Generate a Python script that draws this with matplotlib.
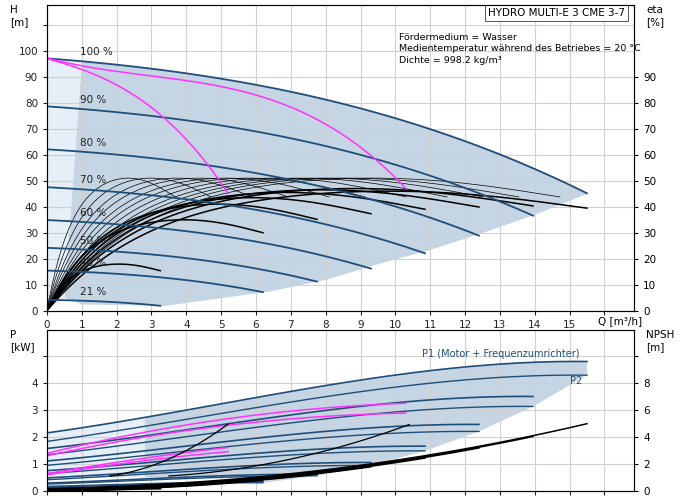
import numpy as np
import matplotlib
matplotlib.use("Agg")
import matplotlib.pyplot as plt

# ---- data ----
speeds = [1.0, 0.9, 0.8, 0.7, 0.6, 0.5, 0.4, 0.21]
speed_labels = ["100 %", "90 %", "80 %", "70 %", "60 %", "50 %", "40 %", "21 %"]
q_max100 = 15.5
h100_q = [0, 2, 4, 6, 8, 10, 12, 14, 15.5]
h100_h = [97, 95, 91.5, 87, 81, 74, 65.5, 55, 45]
eta_shape_x = [0, 0.05, 0.1, 0.2, 0.3, 0.4, 0.5, 0.6, 0.7, 0.8, 0.9, 1.0]
eta_shape_y = [0, 0.25, 0.42, 0.68, 0.84, 0.93, 0.98, 1.0, 0.995, 0.97, 0.92, 0.86]
eta_total_peak = [46, 47, 46.5, 45.5, 43.5, 41, 35, 18]
thin_speeds = [0.25, 0.32, 0.4, 0.47, 0.55, 0.62, 0.7, 0.78, 0.85, 0.92, 1.0]
eta_thin_peak = 51
mag1_q = [0, 1, 2, 3, 4, 4.7, 5.2]
mag1_h = [97, 93, 87, 78, 66, 55, 45]
mag2_q = [0, 2, 4, 6, 8, 9, 10, 10.3]
mag2_h = [97, 93, 88.5, 82, 72, 64, 52, 46]
shade_low_q = [15.5, 14, 12.5, 11, 9.5, 8, 6.4, 3.4, 1.0, 0.5]
shade_low_h = [45, 37, 30, 23.5, 18, 12, 7.5, 2, 2.5, 5]
p1_q = [0, 2, 4, 6, 8, 10, 12, 14, 15.5]
p1_p = [2.15, 2.55, 3.0, 3.45, 3.9, 4.3, 4.6, 4.75, 4.8]
p2_p = [1.85, 2.2, 2.65, 3.1, 3.5, 3.85, 4.1, 4.25, 4.3]
npsh_q = [0, 2, 4, 6, 8, 10, 12, 14, 15.5]
npsh_m = [0.2, 0.35, 0.6, 1.0, 1.6, 2.3, 3.1, 4.1, 5.0]
magp_q1 = [0, 2, 4, 6, 8, 10.3]
magp_a1 = [1.45, 1.9, 2.4, 2.85, 3.15, 3.2]
magp_a2 = [1.35, 1.75, 2.2, 2.6, 2.8, 2.85]
magp_q2 = [0, 1, 2, 3, 4, 5.2]
magp_b1 = [0.65, 0.85, 1.05, 1.25, 1.45, 1.6]
magp_b2 = [0.6, 0.8, 0.98, 1.15, 1.32, 1.45]
lim1_q = [1.8, 3, 4, 4.7, 5.2]
lim1_p = [0.55, 0.95, 1.5, 2.0, 2.5]
lim2_q = [3.5, 6, 8, 9.5, 10.4]
lim2_p = [0.55, 0.95, 1.5, 2.0, 2.5]

blue = "#1f4e79"

def smooth(xs, ys, deg=3):
    c = np.polyfit(xs, ys, deg)
    return lambda x: np.polyval(c, x)

h100 = smooth(h100_q, h100_h, 3)
etas = smooth(eta_shape_x, eta_shape_y, 5)
p1f = smooth(p1_q, p1_p, 3)
p2f = smooth(p1_q, p2_p, 3)
npf = smooth(npsh_q, npsh_m, 3)

def curve(xs, ys, deg=3, n=80):
    f = smooth(xs, ys, deg)
    x = np.linspace(xs[0], xs[-1], n)
    return x, f(x)

fig = plt.figure(figsize=(6.91, 5), dpi=100)
ax = fig.add_axes([0.068, 0.378, 0.8495, 0.612])
bx = fig.add_axes([0.068, 0.018, 0.8495, 0.322])
for a in (ax, bx):
    a.set_xlim(0, 16.85)
    a.set_xticks(range(0, 17))
    a.grid(True, color="#d0d0d0", lw=0.8)
    a.set_axisbelow(True)
    for s in a.spines.values():
        s.set_color("#555555")
    a.tick_params(labelsize=7.5, length=3, direction="out", colors="#222222")
ax.set_ylim(0, 117.7)
ax.set_yticks(range(0, 111, 10))
ax.set_yticklabels([str(v) if v <= 100 else "" for v in range(0, 111, 10)])
ax.set_xticklabels([str(v) if v <= 15 else "" for v in range(0, 17)])
axr = ax.twinx(); axr.set_ylim(0, 117.7)
axr.set_yticks(range(0, 91, 10)); axr.tick_params(labelsize=7.5, length=3)
bx.set_ylim(0, 5.96)
bx.set_yticks(range(0, 6)); bx.set_yticklabels(["0", "1", "2", "3", "4", ""])
bx.set_xticklabels([])
bxr = bx.twinx(); bxr.set_ylim(0, 11.92)
bxr.set_yticks(range(0, 11, 2)); bxr.set_yticklabels(["0", "2", "4", "6", "8", ""])
bxr.tick_params(labelsize=7.5, length=3)

def H(n, q):
    return n**2 * h100(q / n)

qt = np.linspace(1.0, q_max100, 100)
ax.fill(list(qt) + shade_low_q, list(H(1.0, qt)) + shade_low_h, color="#c5d5e4", lw=0, zorder=0.5)
ql = np.linspace(0, 1.0, 20)
ax.fill(list(ql) + [0.5, 0], list(H(1.0, ql)) + [5, 0], color="#e6eff7", lw=0, zorder=0.5)

for n, lab in zip(speeds, speed_labels):
    q = np.linspace(0, n * q_max100, 100)
    ax.plot(q, H(n, q), color=blue, lw=1.3, zorder=3)
    ax.text(0.95, H(n, 0.95) + 2.2, lab, fontsize=7.5, color="#222222", zorder=4)

x = np.linspace(0, 1, 120)
for n in thin_speeds:
    ax.plot(x * n * q_max100 * 0.95, eta_thin_peak * etas(x), color="black", lw=0.5, zorder=2)
for n, pk in zip(speeds, eta_total_peak):
    ax.plot(x * n * q_max100, pk * etas(x), color="black", lw=1.1, zorder=2)
ax.plot(*curve(mag1_q, mag1_h), color="#ff33ff", lw=1.1, zorder=3)
ax.plot(*curve(mag2_q, mag2_h), color="#ff33ff", lw=1.1, zorder=3)

ax.text(16.6, 116.5, "HYDRO MULTI-E 3 CME 3-7", fontsize=7.5, ha="right", va="top",
        bbox=dict(fc="white", ec="#555555", lw=0.7, pad=2))
ax.text(10.1, 107, "Fördermedium = Wasser\nMedientemperatur während des Betriebes = 20 °C\nDichte = 998.2 kg/m³",
        fontsize=6.8, va="top", linespacing=1.35)
fig.text(0.015, 0.99, "H\n[m]", fontsize=7.5, va="top")
fig.text(0.935, 0.99, "eta\n[%]", fontsize=7.5, va="top")
fig.text(0.865, 0.352, "Q [m³/h]", fontsize=7.5)
fig.text(0.015, 0.34, "P\n[kW]", fontsize=7.5, va="top")
fig.text(0.935, 0.34, "NPSH\n[m]", fontsize=7.5, va="top")

def P(n, q, f):
    return n**3 * f(q / n) + 0.05 * (1 - n)

qb = np.linspace(2.8, q_max100, 100)
ends_q = [n * q_max100 for n in speeds[:-1]]
ends_p = [P(n, n * q_max100, p2f) for n in speeds[:-1]]
bx.fill(list(qb) + ends_q + [6.4, 2.8], list(P(1.0, qb, p1f)) + ends_p + [0.5, 0.5],
        color="#c5d5e4", lw=0, zorder=0.5)
qbl = np.linspace(0, 2.8, 20)
bx.fill(list(qbl) + [2.8, 0], list(P(1.0, qbl, p1f)) + [0.5, 0.5], color="#e6eff7", lw=0, zorder=0.5)

for n in speeds:
    q = np.linspace(0, n * q_max100, 100)
    bx.plot(q, P(n, q, p1f), color=blue, lw=1.2, zorder=3)
    bx.plot(q, P(n, q, p2f), color=blue, lw=1.0, zorder=3)
    bxr.plot(q, n**2 * npf(q / n), color="black", lw=1.1, zorder=3)
for xs, ys in [(magp_q1, magp_a1), (magp_q1, magp_a2), (magp_q2, magp_b1), (magp_q2, magp_b2)]:
    bx.plot(*curve(xs, ys, 2), color="#ff33ff", lw=1.1, zorder=4)
bx.plot(*curve(lim1_q, lim1_p, 2), color="black", lw=0.9, zorder=4)
bx.plot(*curve(lim2_q, lim2_p, 2), color="black", lw=0.9, zorder=4)
bx.text(15.3, 4.95, "P1 (Motor + Frequenzumrichter)", fontsize=7, color=blue, ha="right")
bx.text(15.0, 3.95, "P2", fontsize=7, color=blue)

fig.savefig("out.png", dpi=100)
